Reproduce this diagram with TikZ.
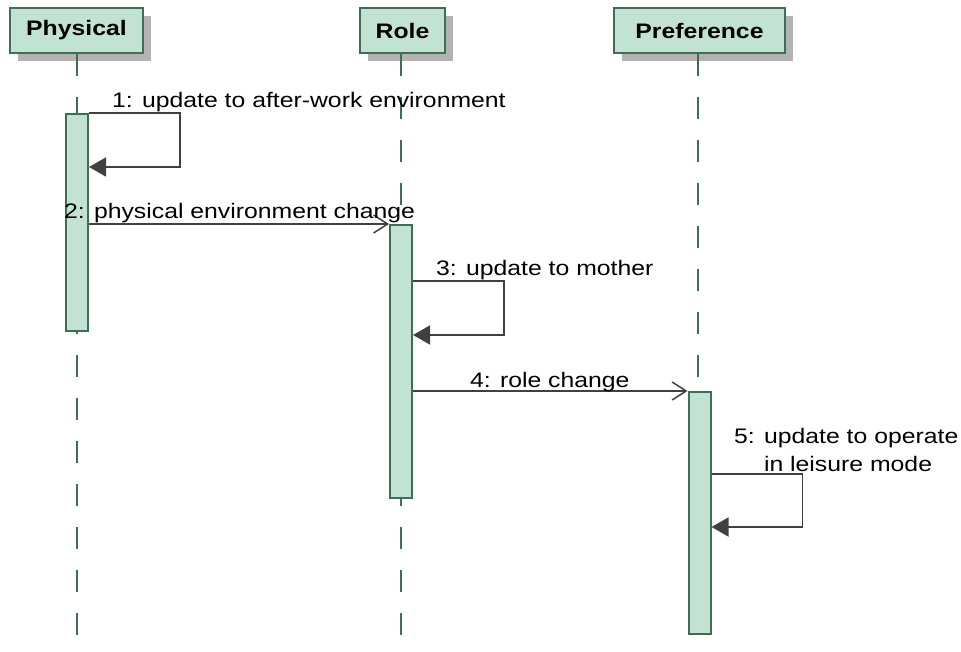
\documentclass[tikz,border=0pt]{standalone}
\usepackage{fontspec}
\setmainfont{Liberation Sans}[FakeStretch=1.18]
\usetikzlibrary{arrows.meta,shadows}
\definecolor{boxfill}{HTML}{C2E2D4}
\definecolor{boxline}{HTML}{3F6E58}
\definecolor{shade}{HTML}{B3B3B3}
\definecolor{wire}{HTML}{404040}

\begin{document}
\begin{tikzpicture}[x=1pt,y=-1pt,
  lbl/.style={inner sep=0pt, font=\fontsize{21}{28}\selectfont, text=black},
  header/.style={draw=boxline, fill=boxfill, line width=2pt, minimum height=45pt,
    inner sep=0pt, font=\fontsize{21}{28}\selectfont\bfseries,
    drop shadow={shadow xshift=8pt, shadow yshift=-8pt, fill=shade, opacity=1}},
  actbox/.style={draw=boxline, fill=boxfill, line width=2pt, inner sep=0pt,
    minimum width=22pt, anchor=north},
  lifeline/.style={draw=boxline, line width=2pt, dash pattern=on 22pt off 21pt},
  callmsg/.style={draw=wire, line width=1.5pt, -{Straight Barb[length=14pt,width=18pt,line width=1.5pt]}},
  selfmsg/.style={draw=wire, line width=1.5pt, -{Triangle[length=17pt,width=19pt]}},
]
\useasboundingbox (0,0) rectangle (961,652);

% participants
\node[header, minimum width=133pt] (phys) at (76.5,30.5) {Physical};
\node[header, minimum width=85pt]  (role) at (402.5,30.5) {Role};
\node[header, minimum width=171pt] (pref) at (699.5,30.5) {Preference};

% lifeline ends
\coordinate (physEnd) at (77,652);
\coordinate (roleEnd) at (401,652);
\coordinate (prefEnd) at (698,652);

\draw[lifeline] (phys.south -| physEnd) -- (physEnd);
\draw[lifeline] (role.south -| roleEnd) -- (roleEnd);
\draw[lifeline] (pref.south -| prefEnd) -- (prefEnd);

% activation bars
\node[actbox, minimum height=217pt] (actP) at (77,113) {};
\node[actbox, minimum height=273pt] (actR) at (401,224) {};
\node[actbox, minimum height=242pt] (actF) at (699.5,391) {};

% 1: self call on Physical
\draw[selfmsg] (actP.north east) -- ++(91,0) -- ++(0,54) -- ++(-91,0);
\node[lbl, anchor=base west] (l1) at (112,108) {1: update to after-work environment};

% 2: Physical -> Role
\draw[callmsg] (actP.east |- 0,224) -- (actR.north west);
\node[lbl, anchor=base west] (l2) at (64,219) {2: physical environment change};

% 3: self call on Role
\draw[selfmsg] (actR.east |- 0,281) -- ++(91,0) -- ++(0,54) -- ++(-91,0);
\node[lbl, anchor=base west] (l3) at (436,276) {3: update to mother};

% 4: Role -> Preference
\draw[callmsg] (actR.east |- 0,391) -- (actF.north west);
\node[lbl, anchor=base west] (l4) at (470,387) {4: role change};

% 5: self call on Preference (base anchor sits on the last line)
\draw[selfmsg] (actF.east |- 0,474) -- ++(91,0) -- ++(0,53) -- ++(-91,0);
\node[lbl, anchor=base west, align=left] (l5) at (734,471)
  {5: update to operate\\\hphantom{5: }in leisure mode};
\end{tikzpicture}
\end{document}
